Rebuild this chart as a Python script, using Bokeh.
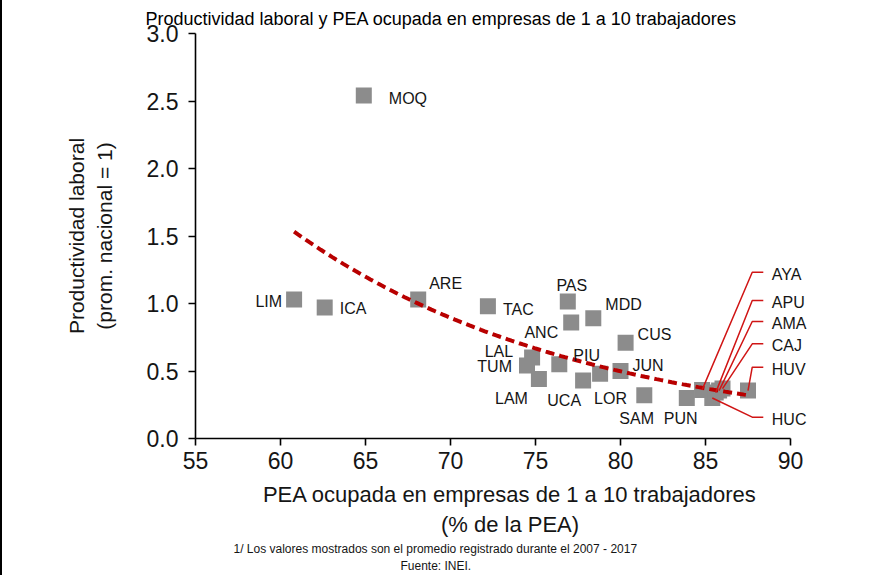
import numpy as np
from bokeh.plotting import figure
from bokeh.models import FixedTicker, NumeralTickFormatter, ColumnDataSource, Title
from bokeh.core.properties import value
from bokeh.embed import file_html
from bokeh.resources import INLINE

# ---------------- data ----------------
regions = ["LIM", "ICA", "MOQ", "ARE", "TAC", "PAS", "ANC", "MDD", "LAL", "TUM",
           "LAM", "PIU", "UCA", "LOR", "JUN", "CUS", "SAM", "PUN", "AYA", "HUC",
           "APU", "AMA", "CAJ", "HUV"]
pea_share = [60.8, 62.6, 64.9, 68.1, 72.2, 76.9, 77.1, 78.4, 74.8, 74.5,
             75.2, 76.4, 77.8, 78.8, 80.0, 80.3, 81.4, 83.9, 84.8, 85.4,
             85.6, 85.8, 86.0, 87.5]
productivity = [1.03, 0.97, 2.54, 1.03, 0.98, 1.015, 0.86, 0.89, 0.60, 0.54,
                0.44, 0.55, 0.43, 0.48, 0.50, 0.71, 0.32, 0.30, 0.36, 0.30,
                0.34, 0.355, 0.37, 0.355]
x_ticks = [55, 60, 65, 70, 75, 80, 85, 90]
y_ticks = [0.0, 0.5, 1.0, 1.5, 2.0, 2.5, 3.0]

title_text = "Productividad laboral y PEA ocupada en empresas de 1 a 10 trabajadores"
x_title = "PEA ocupada en empresas de 1 a 10 trabajadores\n(% de la PEA)"
y_title = "Productividad laboral\n(prom. nacional = 1)"
footnote = "1/ Los valores mostrados son el promedio registrado durante el 2007 - 2017"
source_note = "Fuente: INEI."

# ---------------- layout of labels (pixel offsets, alignment) ----------------
label_layout = {
    "LIM": (-12, 2, "right"), "ICA": (15, 1, "left"), "MOQ": (25, 3, "left"),
    "ARE": (11, -16, "left"), "TAC": (15, 3, "left"), "PAS": (4, -16, "center"),
    "ANC": (-13, 10, "right"), "MDD": (12, -14, "left"), "LAL": (-19, -6, "right"),
    "TUM": (-15, 1, "right"), "LAM": (-11, 19, "right"), "PIU": (14, -9, "left"),
    "UCA": (-2, 20, "right"), "LOR": (-6, 25, "left"), "JUN": (12, -6, "left"),
    "CUS": (12, -8, "left"), "SAM": (-25, 23, "left"), "PUN": (-23, 20, "left"),
}
# leader-line labels for the crowded right cluster: label level (data y)
leader_levels = {"AYA": 1.232, "APU": 1.022, "AMA": 0.867, "CAJ": 0.701,
                 "HUV": 0.528, "HUC": 0.158}
elbow_x, end_x, leader_text_x = 87.75, 88.4, 88.9

FONT = "Liberation Sans"
TXT = "#151515"

p = figure(width=868, height=575, x_range=(55, 92), y_range=(0, 3.0),
           output_backend="svg", toolbar_location=None,
           min_border_left=193, min_border_right=46, min_border_top=33,
           min_border_bottom=137)
p.styles = {"border-left": "2px solid black"}
p.grid.visible = False
p.outline_line_color = None
p.background_fill_color = "white"
p.border_fill_color = "white"

p.title.text = title_text
p.title.text_font = FONT
p.title.text_font_size = "18px"
p.title.text_font_style = "normal"
p.title.text_color = "black"
p.title.align = "left"
p.title.offset = -50
p.title.standoff = 10

for ax, ticks, bnds in ((p.xaxis, x_ticks, (55, 90)), (p.yaxis, y_ticks, (0, 3))):
    ax.ticker = FixedTicker(ticks=ticks)
    ax.bounds = bnds
    ax.axis_line_color = "black"
    ax.axis_line_width = 1.6
    ax.major_tick_line_color = "black"
    ax.major_tick_line_width = 1.6
    ax.major_tick_in = 0
    ax.major_tick_out = 7
    ax.minor_tick_line_color = None
    ax.major_label_text_font = FONT
    ax.major_label_text_font_size = "23px"
    ax.major_label_text_color = TXT
    ax.axis_label_text_font = FONT
    ax.axis_label_text_font_style = "normal"
    ax.axis_label_text_color = TXT
p.yaxis.formatter = NumeralTickFormatter(format="0.0")
p.xaxis.major_label_standoff = 6
p.yaxis.major_label_standoff = 10
p.xaxis.axis_label = x_title
p.xaxis.axis_label_text_font_size = "22px"
p.xaxis.axis_label_standoff = 10
p.yaxis.axis_label = y_title
p.yaxis.axis_label_text_font_size = "21px"
p.yaxis.axis_label_standoff = 28

src = ColumnDataSource(dict(x=pea_share, y=productivity, name=regions))
p.scatter("x", "y", source=src, marker="square", size=16,
          fill_color="#8c8c8c", line_color=None)

# exponential trend fitted to the data
coef = np.polyfit(np.array(pea_share), np.log(np.array(productivity)), 1)
xs = np.linspace(min(pea_share), max(pea_share), 120)
p.line(xs, np.exp(coef[1] + coef[0] * xs), line_color="#b80000", line_width=4,
       line_dash="9 5")

# point labels
lx, ly, lt, ldx, ldy, lal = [], [], [], [], [], []
for n, xv, yv in zip(regions, pea_share, productivity):
    if n in label_layout:
        dx, dy, al = label_layout[n]
        lx.append(xv); ly.append(yv); lt.append(n)
        ldx.append(dx); ldy.append(dy); lal.append(al)
lsrc = ColumnDataSource(dict(x=lx, y=ly, t=lt, dx=ldx, dy=ldy, al=lal))
p.text("x", "y", text="t", x_offset="dx", y_offset="dy", text_align="al",
       source=lsrc, text_baseline="middle", text_font=value(FONT),
       text_font_size=value("16px"), text_color=TXT)

# leader lines
seg_xs, seg_ys, tx, ty, tt = [], [], [], [], []
for n, xv, yv in zip(regions, pea_share, productivity):
    if n in leader_levels:
        lv = leader_levels[n]
        seg_xs.append([xv, elbow_x, end_x]); seg_ys.append([yv, lv, lv])
        tx.append(leader_text_x); ty.append(lv); tt.append(n)
p.multi_line(seg_xs, seg_ys, line_color="#d01515", line_width=1.5)
p.text(tx, ty, text=tt, text_baseline="middle", text_align="left",
       y_offset=2, text_font=value(FONT), text_font_size=value("16px"),
       text_color=TXT)

# notes below the chart
p.add_layout(Title(text=footnote, align="left", offset=38, standoff=0,
                   text_font=FONT, text_font_size="12px",
                   text_font_style="normal", text_color=TXT), "below")
p.add_layout(Title(text=source_note, align="left", offset=205, standoff=3,
                   text_font=FONT, text_font_size="12px",
                   text_font_style="normal", text_color=TXT), "below")

open("out.html", "w").write(file_html(p, INLINE))
